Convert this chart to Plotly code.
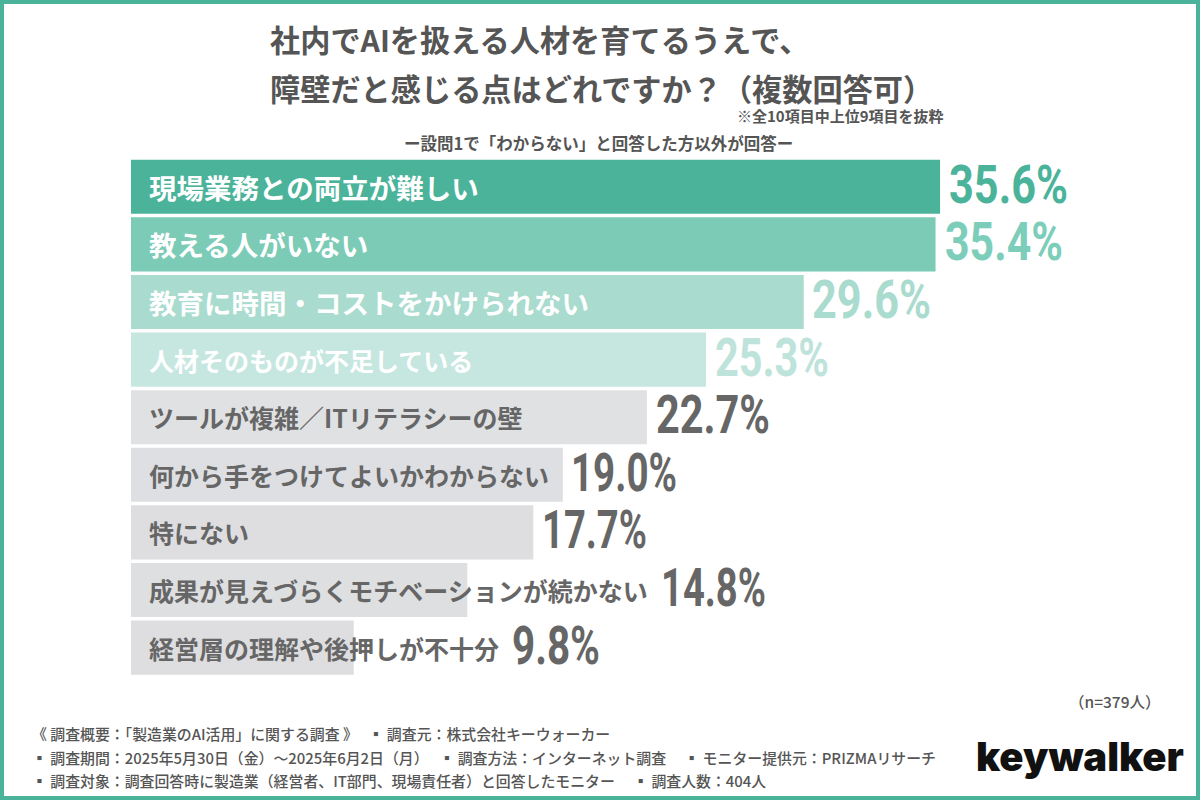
import json
import plotly.graph_objects as go

categories = [
    "現場業務との両立が難しい",
    "教える人がいない",
    "教育に時間・コストをかけられない",
    "人材そのものが不足している",
    "ツールが複雑／ITリテラシーの壁",
    "何から手をつけてよいかわからない",
    "特にない",
    "成果が見えづらくモチベーションが続かない",
    "経営層の理解や後押しが不十分",
]
values = [35.6, 35.4, 29.6, 25.3, 22.7, 19.0, 17.7, 14.8, 9.8]

bar_colors = ["#4CB39B", "#7BCBB6", "#A9DBCE", "#C6E7E0", "#DFE1E3",
              "#DEDFE2", "#DEDEE1", "#DEDFE1", "#DEDEE1"]
value_colors = ["#4CB39B", "#7CCDBA", "#A9DBCE", "#BEE3DB", "#666666",
                "#666666", "#666666", "#666666", "#666666"]
label_colors = ["#FFFFFF", "#FFFFFF", "#FFFFFF", "#FFFFFF", "#666666",
                "#666666", "#666666", "#666666", "#666666"]
label_sizes = [27.5, 27.5, 27.5, 25, 25, 25, 25, 25, 25]
# gap between bar end and value, the last two sit past their long labels
value_gaps = [7, 7, 6, 7, 7, 6, 7, 192, 156]
# drawn width of each percent label in px
value_widths = [119, 118, 119, 114, 114, 106, 105, 105, 88]

title_lines = ["社内でAIを扱える人材を育てるうえで、", "障壁だと感じる点はどれですか？（複数回答可）"]
footer_lines = [
    "《 調査概要：「製造業のAI活用」に関する調査 》　 ▪ 調査元：株式会社キーウォーカー",
    "▪ 調査期間：2025年5月30日（金）～2025年6月2日（月）　 ▪ 調査方法：インターネット調査　 ▪ モニター提供元：PRIZMAリサーチ",
    "▪ 調査対象：調査回答時に製造業（経営者、IT部門、現場責任者）と回答したモニター　 ▪ 調査人数：404人",
]

JP = "Noto Sans CJK JP"
W, H = 1200, 800

# no condensed font installed: squeeze the percent labels, and drop the page margin
POST = """
document.body.style.margin = '0';
var widths = %s;
var i = 0;
document.querySelectorAll('.annotation-text').forEach(function (t) {
  if (!t.textContent.endsWith('%%')) return;
  var b = t.getBBox();
  var s = widths[i++] / b.width;
  var old = t.getAttribute('transform') || '';
  t.setAttribute('transform', old + ' translate(' + b.x + ' 0) scale(' + s + ' 1) translate(' + (-b.x) + ' 0)');
});
""" % json.dumps(value_widths)


def note(text, x, y, size, color="#555555", weight=700, family=JP, anchor="left"):
    # x and y are page pixels, y measured from the top
    return dict(
        text=text, x=x / W, y=1 - y / H, xref="paper", yref="paper",
        xanchor=anchor, yanchor="middle", showarrow=False,
        font=dict(family=family, size=size, color=color, weight=weight),
    )


fig = go.Figure(go.Bar(
    x=values,
    y=categories,
    orientation="h",
    marker=dict(color=bar_colors, line=dict(width=0)),
))

notes = []
for cat, val, col, sz, vcol, gap in zip(categories, values, label_colors, label_sizes,
                                        value_colors, value_gaps):
    notes.append(dict(
        text=cat, x=0, y=cat, xref="x", yref="y", xanchor="left", yanchor="middle",
        xshift=16, yshift=0, showarrow=False,
        font=dict(family=JP, size=sz, color=col, weight=700),
    ))
    notes.append(dict(
        text=f"{val:.1f}%", x=val, y=cat, xref="x", yref="y", xanchor="left", yanchor="middle",
        xshift=gap, yshift=2, showarrow=False,
        font=dict(family="Roboto", size=53, color=vcol, weight=700),
    ))

notes.append(note(title_lines[0], 268, 39, 30.2))
notes.append(note(title_lines[1], 268, 88, 30.2))
notes.append(note("※全10項目中上位9項目を抜粋", 735, 115, 15))
notes.append(note("ー設問1で「わからない」と回答した方以外が回答ー", 402, 143, 16.5))
notes.append(note("（n=379人）", 1163, 701, 15.5, anchor="right", weight=500))
for line, y in zip(footer_lines, [733, 757, 780]):
    notes.append(note(line, 30, y, 14.9, weight=500))
notes.append(note("keywalker", 1080, 756, 40, color="#111111", weight=900,
                  family="Inter", anchor="center"))

fig.update_layout(
    width=W,
    height=H,
    margin=dict(l=0, r=0, t=0, b=0),
    paper_bgcolor="white",
    plot_bgcolor="white",
    showlegend=False,
    bargap=0.06,
    annotations=notes,
    shapes=[dict(type="rect", xref="paper", yref="paper", x0=0, x1=1, y0=0, y1=1,
                 line=dict(color="#4CB39B", width=8), fillcolor="rgba(0,0,0,0)")],
    xaxis=dict(domain=[131 / W, 1131 / W], range=[0, 44], visible=False),
    yaxis=dict(domain=[1 - 676.4 / H, 1 - 158 / H], range=[8.5, -0.5], visible=False),
)

fig.write_html("out.html", post_script=POST, config={"displayModeBar": False})
